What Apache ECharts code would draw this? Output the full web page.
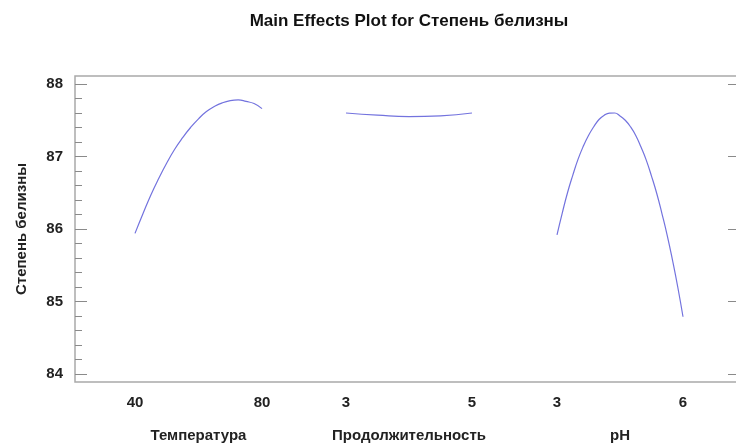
<!DOCTYPE html>
<html>
<head>
<meta charset="utf-8">
<script src="https://cdn.jsdelivr.net/npm/echarts@6/dist/echarts.min.js"></script>
<style>
  html, body { margin: 0; padding: 0; background: #fff; }
  #chart { width: 736px; height: 445px; }
</style>
</head>
<body>
<div id="chart"></div>
<script>
// Factor levels and fitted mean whiteness for each factor
const tempLevels = [40, 42.5, 45, 47.5, 50, 52.5, 55, 57.5, 60, 62.5, 65, 67.5, 70, 72.5, 75, 77.5, 80];
const tempMeans  = [85.94, 86.21, 86.47, 86.70, 86.91, 87.10, 87.26, 87.40, 87.52, 87.62, 87.69, 87.74, 87.77, 87.78, 87.76, 87.73, 87.66];

const durLevels = [3, 3.5, 4, 4.5, 5];
const durMeans  = [87.60, 87.57, 87.55, 87.56, 87.60];

const phLevels = [3, 3.125, 3.25, 3.375, 3.5, 3.625, 3.75, 3.875, 4, 4.125, 4.25, 4.375, 4.5,
                  4.625, 4.75, 4.875, 5, 5.125, 5.25, 5.375, 5.5, 5.625, 5.75, 5.875, 6];
const phMeans  = [85.92, 86.22, 86.50, 86.74, 86.96, 87.14, 87.29, 87.41, 87.51, 87.57, 87.598, 87.60, 87.56,
                  87.50, 87.41, 87.29, 87.13, 86.95, 86.73, 86.49, 86.21, 85.91, 85.57, 85.20, 84.79];

// Tick labels
const tempTicks = [40, 80];
const durTicks = [3, 5];
const phTicks = [3, 6];
const yTicks = [84, 85, 86, 87, 88];

const factorNames = ['Температура', 'Продолжительность', 'pH'];
const responseName = 'Степень белизны';
const titleText = 'Main Effects Plot for Степень белизны';

const FONT = '"Liberation Sans", Arial, sans-serif';
const LINE = '#7373de';
const BORDER = '#a9a9a9';
const TICK = '#8a8a8a';
const TEXT = '#222';

const pairs = (xs, ys) => xs.map((x, i) => [x, ys[i]]);

const chart = echarts.init(document.getElementById('chart'), null, { renderer: 'canvas' });

const panelTop = 84, panelBottom = 71;
const panels = [
  { left: 135, width: 127, min: 40, max: 80, ticks: tempTicks },
  { left: 346, width: 126, min: 3, max: 5, ticks: durTicks },
  { left: 557, width: 126, min: 3, max: 6, ticks: phTicks }
];

const grids = [
  // outer frame
  { left: 75, top: 76, right: -4, bottom: 63, show: true, borderColor: BORDER, borderWidth: 1.5,
    backgroundColor: 'transparent', outerBoundsMode: 'none' },
  // response scale
  { left: 75, top: panelTop, right: -4, bottom: panelBottom, outerBoundsMode: 'none' }
];
panels.forEach(p => grids.push({ left: p.left, width: p.width, top: panelTop, bottom: panelBottom, outerBoundsMode: 'none' }));

const hiddenX = (gi) => ({ type: 'value', gridIndex: gi, min: 0, max: 1, show: false });
const boldText = (size) => ({ color: TEXT, fontFamily: FONT, fontWeight: 'bold', fontSize: size });

const xAxes = [hiddenX(0), hiddenX(1)];
panels.forEach((p, i) => xAxes.push({
  type: 'value', gridIndex: i + 2, min: p.min, max: p.max,
  axisLine: { show: false }, axisTick: { show: false }, splitLine: { show: false },
  axisLabel: Object.assign({ customValues: p.ticks, margin: 21 }, boldText(15)),
  name: factorNames[i], nameLocation: 'middle', nameGap: 54,
  nameTextStyle: boldText(15)
}));

const yAxes = [
  { type: 'value', gridIndex: 0, min: 0, max: 1, show: false },
  {
    type: 'value', gridIndex: 1, position: 'left', min: 84, max: 88,
    axisLine: { show: false }, splitLine: { show: false },
    axisTick: { inside: true, length: 12, customValues: yTicks, lineStyle: { color: TICK, width: 1 } },
    minorTick: { show: true, splitNumber: 5, length: 7, lineStyle: { color: TICK, width: 1 } },
    axisLabel: Object.assign({ customValues: yTicks, margin: 12 }, boldText(15)),
    name: responseName, nameLocation: 'middle', nameGap: 46,
    nameTextStyle: boldText(15)
  },
  {
    type: 'value', gridIndex: 1, position: 'right', min: 84, max: 88,
    axisLine: { show: false }, splitLine: { show: false }, axisLabel: { show: false },
    axisTick: { inside: true, length: 12, customValues: yTicks, lineStyle: { color: TICK, width: 1 } }
  }
];
panels.forEach((p, i) => yAxes.push({ type: 'value', gridIndex: i + 2, min: 84, max: 88, show: false }));

const lineSeries = (xs, ys, idx) => ({
  type: 'line', xAxisIndex: idx, yAxisIndex: idx + 1,
  data: pairs(xs, ys), smooth: true, showSymbol: false, silent: true,
  lineStyle: { color: LINE, width: 1.2 }
});

chart.setOption({
  animation: false,
  backgroundColor: '#fff',
  grid: grids,
  xAxis: xAxes,
  yAxis: yAxes,
  graphic: [{
    type: 'text', x: 409, y: 21,
    style: { text: titleText, fill: '#111', font: 'bold 17px ' + FONT, textAlign: 'center', textVerticalAlign: 'middle' }
  }],
  series: [
    lineSeries(tempLevels, tempMeans, 2),
    lineSeries(durLevels, durMeans, 3),
    lineSeries(phLevels, phMeans, 4)
  ]
});
</script>
</body>
</html>
